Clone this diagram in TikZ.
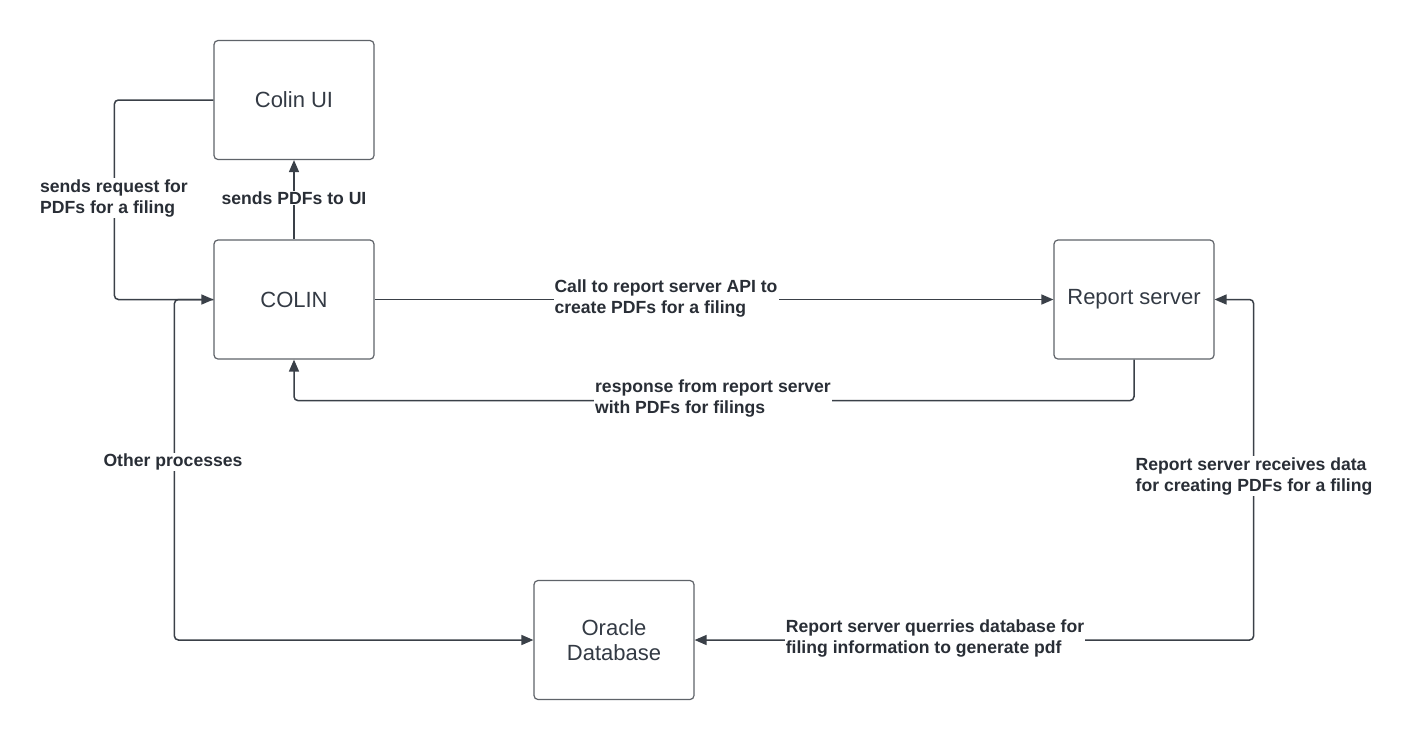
\documentclass[tikz,border=0pt]{standalone}
\usepackage{fontspec}
\setmainfont{Liberation Sans}
\usetikzlibrary{arrows.meta}
\definecolor{linec}{HTML}{3A4048}
\definecolor{boxc}{HTML}{5F6369}
\definecolor{txtc}{HTML}{333A44}
\begin{document}
\begin{tikzpicture}[x=1pt,y=-1pt,
  box/.style={draw=boxc,line width=1.2pt,rounded corners=4pt,minimum width=160pt,minimum height=119pt,inner sep=0pt,align=center,text=txtc,font=\fontsize{22}{25}\selectfont},
  conn/.style={draw=linec,line width=1.5pt,rounded corners=4pt,-{Triangle[length=12pt,width=10pt]}},
  lbl/.style={fill=white,inner sep=1pt,align=left,text=txtc!80!black,font=\bfseries\fontsize{17.6}{21}\selectfont}]
\fill[white] (0,0) rectangle (1414,740);
\useasboundingbox (0,0) rectangle (1414,740);
\node[box] (ui) at (294,100) {Colin UI};
\node[box] (colin) at (294,299.5) {COLIN};
\node[box] (rs) at (1134,299.5) {Report server};
\node[box] (db) at (614,640) {Oracle\\Database};
% connectors
\draw[conn] (ui.west) -- ++(-99,0) |- (colin.west);
\draw[conn] (colin.north) -- (ui.south);
\draw[conn] (colin.east) -- (rs.west);
\draw[conn] (rs.south) -- ++(0,41) -| (colin.south);
\draw[conn] (colin.west) -- ++(-39,0) |- (db.west);
\draw[conn,{Triangle[length=12pt,width=10pt]}-{Triangle[length=12pt,width=10pt]}] (db.east) -- ++(559,0) |- (rs.east);
% labels
\node[lbl] (l1) at (114,198) {sends request for\\PDFs for a filing};
\node[lbl] (l2) at (294,198) {sends PDFs to UI};
\node[lbl] (l3) at (666,298) {Call to report server API to\\create PDFs for a filing};
\node[lbl] (l4) at (713,398) {response from report server\\with PDFs for filings};
\node[lbl] (l5) at (173,462) {Other processes};
\node[lbl] (l6) at (1254,476) {Report server receives data\\for creating PDFs for a filing};
\node[lbl] (l7) at (935,638) {Report server querries database for\\filing information to generate pdf};
\end{tikzpicture}
\end{document}
